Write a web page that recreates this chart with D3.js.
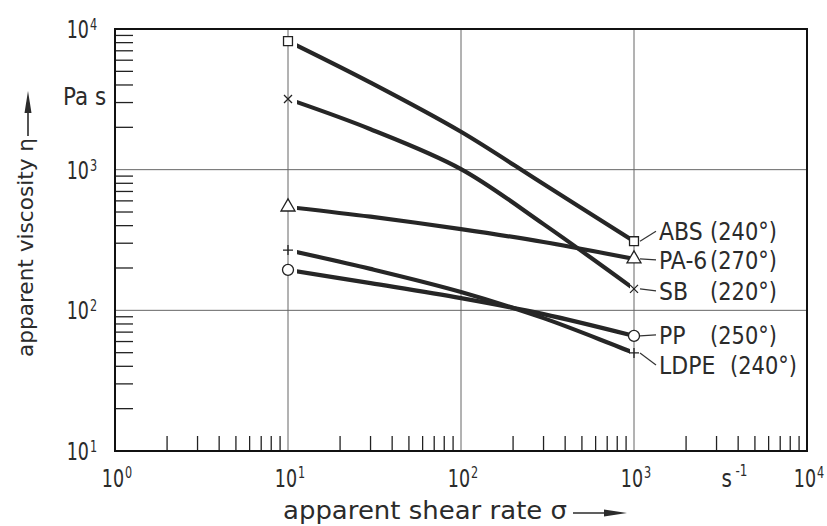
<!DOCTYPE html>
<html>
<head>
<meta charset="utf-8">
<script src="https://cdn.jsdelivr.net/npm/d3@7"></script>
<style>
  body { margin: 0; background: #fff; }
  text { font-family: "DejaVu Sans", sans-serif; fill: #2b2b2b; }
</style>
</head>
<body>
<svg id="chart"></svg>
<script>
// data (shear rate in 1/s, viscosity in Pa s)
const shearRates = [10, 30, 100, 300, 1000];
const absVisc = [8200, 4160, 1860, 790, 310];
const pa6Visc = [543, 463, 378, 306, 232];
const sbVisc = [3180, 1940, 1010, 410, 142];
const ppVisc = [194, 156, 122, 94, 65.8];
const ldpeVisc = [268, 197, 135, 88, 49.8];
const seriesNames = ["ABS", "PA-6", "SB", "PP", "LDPE"];
const seriesTemps = ["(240°)", "(270°)", "(220°)", "(250°)", "(240°)"];
const xTickExp = [0, 1, 2, 3, 4];
const yTickExp = [1, 2, 3, 4];

const allVisc = [absVisc, pa6Visc, sbVisc, ppVisc, ldpeVisc];

// label layout next to the right-hand markers
const labelDy = [-10, 1, 2, -1, 12];
const tempShift = [76, 76, 76, 76, 96];

const W = 827, H = 526;
const svg = d3.select('#chart').attr('width', W).attr('height', H);

const x = d3.scaleLog().domain([1, 1e4]).range([115, 807]);
const y = d3.scaleLog().domain([10, 1e4]).range([451, 29]);

function txt(g, px, py, str, size, sx, anchor) {
  return g.append('text')
    .attr('transform', `translate(${px},${py}) scale(${sx},1)`)
    .attr('text-anchor', anchor || 'start')
    .style('font-size', size + 'px')
    .text(str);
}

const isMinor = d => Math.abs(Math.log10(d) - Math.round(Math.log10(d))) > 1e-6;

// grid lines at the decades
const grid = svg.append('g').attr('stroke', '#666').attr('stroke-width', 1);
grid.selectAll('line.gx')
  .data(xTickExp.slice(1, -1))
  .enter().append('line')
  .attr('x1', d => x(Math.pow(10, d))).attr('x2', d => x(Math.pow(10, d)))
  .attr('y1', y(1e4)).attr('y2', y(10));
grid.selectAll('line.gy')
  .data(yTickExp.slice(1, -1))
  .enter().append('line')
  .attr('y1', d => y(Math.pow(10, d))).attr('y2', d => y(Math.pow(10, d)))
  .attr('x1', x(1)).attr('x2', x(1e4));

// minor ticks inside the frame
const ticks = svg.append('g').attr('stroke', '#222').attr('stroke-width', 1.3);
ticks.selectAll('line.mx')
  .data(x.ticks().filter(isMinor))
  .enter().append('line')
  .attr('x1', d => x(d)).attr('x2', d => x(d))
  .attr('y1', y(10)).attr('y2', y(10) - 15);
ticks.selectAll('line.my')
  .data(y.ticks().filter(isMinor))
  .enter().append('line')
  .attr('y1', d => y(d)).attr('y2', d => y(d))
  .attr('x1', x(1)).attr('x2', x(1) + 18);

// frame
svg.append('rect')
  .attr('x', x(1)).attr('y', y(1e4))
  .attr('width', x(1e4) - x(1)).attr('height', y(10) - y(1e4))
  .attr('fill', 'none').attr('stroke', '#111').attr('stroke-width', 2);

// curves
svg.append('clipPath').attr('id', 'clip')
  .append('rect')
  .attr('x', x(10) + 9).attr('y', 0)
  .attr('width', x(1000) - 4 - (x(10) + 9)).attr('height', H);

const line = d3.line()
  .x(d => x(d[0]))
  .y(d => y(d[1]))
  .curve(d3.curveCatmullRom.alpha(0.5));

svg.append('g').attr('clip-path', 'url(#clip)')
  .selectAll('path')
  .data(allVisc)
  .enter().append('path')
  .attr('d', v => line(shearRates.map((s, i) => [s, v[i]])))
  .attr('fill', 'none')
  .attr('stroke', '#262626')
  .attr('stroke-width', 4.2)
  .attr('stroke-linecap', 'round');

// markers
const symbols = [
  d3.symbol().type(d3.symbolSquare).size(80)(),
  d3.symbol().type(d3.symbolTriangle).size(85)(),
  'M-4,-4L4,4M-4,4L4,-4',
  d3.symbol().type(d3.symbolCircle).size(95)(),
  'M-5,0H5M0,-5V5'
];
const marks = svg.append('g');
allVisc.forEach((v, k) => {
  const ends = [[shearRates[0], v[0]], [shearRates[shearRates.length - 1], v[v.length - 1]]];
  marks.selectAll(null)
    .data(ends)
    .enter().append('path')
    .attr('transform', d => `translate(${x(d[0])},${y(d[1])})`)
    .attr('d', symbols[k])
    .attr('fill', '#fff')
    .attr('stroke', '#222')
    .attr('stroke-width', 1.3);
});

// series labels
const labels = svg.append('g');
allVisc.forEach((v, k) => {
  const mx = x(shearRates[shearRates.length - 1]);
  const my = y(v[v.length - 1]);
  const cy = my + labelDy[k];
  labels.append('line')
    .attr('x1', mx + 6).attr('y1', my)
    .attr('x2', mx + 22).attr('y2', cy)
    .attr('stroke', '#333').attr('stroke-width', 1.2);
  txt(labels, mx + 25, cy + 9, seriesNames[k], 25, 0.88);
  txt(labels, mx + tempShift[k], cy + 9, seriesTemps[k], 25, 0.84);
});

// y tick labels
const yl = svg.append('g');
yTickExp.forEach(e => {
  const py = y(Math.pow(10, e));
  txt(yl, 89, py + 9, '10', 25, 0.7, 'end');
  txt(yl, 90, py + 1, String(e), 15, 0.75);
});
txt(yl, 63, 105, 'Pa s', 25, 0.86);

// x tick labels
const xl = svg.append('g');
xTickExp.forEach(e => {
  const px = x(Math.pow(10, e)) - 2;
  txt(xl, px, 487, '10', 25, 0.7, 'middle');
  txt(xl, px + 12, 478, String(e), 15, 0.75);
});
const sx = x(Math.pow(10, 3.5)) + 1;
txt(xl, sx, 487, 's', 25, 0.8);
txt(xl, sx + 14, 476, '-1', 15, 0.8);

// axis titles
svg.append('text')
  .attr('x', 283).attr('y', 519)
  .style('font-size', '25px')
  .attr('textLength', 284).attr('lengthAdjust', 'spacingAndGlyphs')
  .text('apparent shear rate σ');
svg.append('line')
  .attr('x1', 573).attr('x2', 610).attr('y1', 513).attr('y2', 513)
  .attr('stroke', '#2b2b2b').attr('stroke-width', 1.6);
svg.append('path')
  .attr('d', 'M604,509.5L627,513L604,516.5Z')
  .attr('fill', '#2b2b2b');

svg.append('text')
  .attr('transform', 'translate(33,357) rotate(-90)')
  .style('font-size', '21.5px')
  .attr('textLength', 219).attr('lengthAdjust', 'spacingAndGlyphs')
  .text('apparent viscosity η');
svg.append('line')
  .attr('x1', 28).attr('x2', 28).attr('y1', 136).attr('y2', 105)
  .attr('stroke', '#2b2b2b').attr('stroke-width', 1.6);
svg.append('path')
  .attr('d', 'M24.5,113L28,91L31.5,113Z')
  .attr('fill', '#2b2b2b');
</script>
</body>
</html>
